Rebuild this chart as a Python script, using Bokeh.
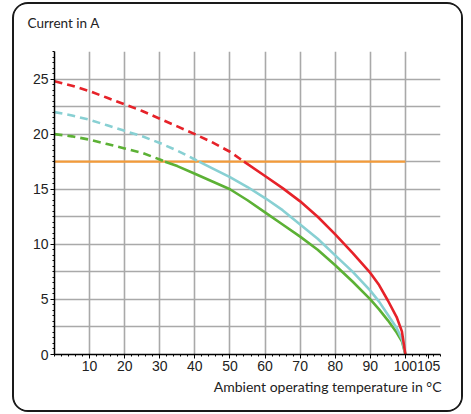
from bokeh.plotting import figure
from bokeh.models import Range1d, FixedTicker, Title
from bokeh.embed import file_html
from bokeh.resources import INLINE
import numpy as np

# ---- data ----
limit_current = 17.5
limit_temp_end = 100

red_t = [0, 5, 10, 15, 20, 25, 30, 35, 40, 45, 50, 54, 60, 65, 70, 75, 80, 85, 90, 92.5, 95, 97.5, 99, 100]
red_i = [24.8, 24.4, 23.9, 23.3, 22.7, 22.1, 21.4, 20.7, 20.0, 19.25, 18.4, 17.5, 16.2, 15.1, 13.9, 12.5, 10.9, 9.2, 7.4, 6.3, 4.9, 3.4, 2.1, 0]

cyan_t = [0, 5, 10, 15, 20, 25, 30, 35, 40, 41.2, 45, 50, 55, 60, 65, 70, 75, 80, 85, 90, 92.5, 95, 97.5, 99, 100]
cyan_i = [22.0, 21.7, 21.3, 20.8, 20.3, 19.8, 19.2, 18.5, 17.7, 17.5, 16.9, 16.1, 15.2, 14.2, 13.1, 11.8, 10.5, 9.0, 7.5, 5.8, 4.8, 3.6, 2.4, 1.4, 0]

green_t = [0, 5, 10, 15, 20, 25, 30, 31.5, 35, 40, 45, 50, 55, 60, 65, 70, 75, 80, 85, 90, 92.5, 95, 97.5, 99, 100]
green_i = [20.0, 19.8, 19.5, 19.1, 18.7, 18.3, 17.7, 17.5, 17.1, 16.4, 15.7, 15.0, 14.0, 12.9, 11.8, 10.7, 9.5, 8.1, 6.6, 5.0, 4.1, 3.1, 2.0, 1.2, 0]

x_grid = [10, 20, 30, 40, 50, 60, 70, 80, 90, 100, 110]
x_ticks = [10, 20, 30, 40, 50, 60, 70, 80, 90, 100, 106.6]
x_tick_labels = ["10", "20", "30", "40", "50", "60", "70", "80", "90", "100", "105"]
y_ticks = [0, 5, 10, 15, 20, 25]
y_grid = [2.5, 5, 7.5, 10, 12.5, 15, 17.5, 20, 22.5, 25, 27.5]

y_caption = "Current in A"
x_caption = "Ambient operating temperature in °C"

RED = "#e62229"
CYAN = "#88d0d3"
GREEN = "#5cb135"
ORANGE = "#f39b3a"
GRID = "#a9a9a9"
TXT = "#222222"

# ---- layout ----
BORDER = 2
W, H = 447, 406                 # inner size of the rounded box
FL, FR, FT, FB = 40, 422, 47, 346   # plot frame edges inside the box
XMAX, YMAX = 110, 27.5

p = figure(width=W, height=H, output_backend="svg", toolbar_location=None,
           x_range=Range1d(0, XMAX), y_range=Range1d(0, YMAX),
           min_border_left=FL, min_border_right=W - FR, min_border_top=FT,
           min_border_bottom=H - FB)
p.margin = (2, 0, 0, 12)
p.styles = {"border": f"{BORDER}px solid #1a1a1a", "border-radius": "16px",
            "box-sizing": "content-box", "overflow": "hidden", "background": "white"}
p.outline_line_color = None
p.background_fill_color = "white"
p.border_fill_color = "white"

# spacer between the caption and the plot frame
p.add_layout(Title(text=" ", text_font_size="1px", standoff=18), "above")

# caption above (y quantity)
p.title.text = y_caption
p.title.align = "left"
p.title.offset = -27
p.title.standoff = 0
p.title.text_font = "Lato"
p.title.text_font_size = "13.5px"
p.title.text_font_style = "normal"
p.title.text_color = TXT

# caption below (x quantity)
p.add_layout(Title(text=x_caption, align="right", offset=-1, standoff=8,
                   vertical_align="top", text_font="Lato", text_font_size="14px",
                   text_font_style="normal", text_color=TXT), "below")

# grid
p.xgrid.ticker = FixedTicker(ticks=x_grid)
p.ygrid.ticker = FixedTicker(ticks=y_grid)
for g in (p.xgrid, p.ygrid):
    g.grid_line_color = GRID
    g.grid_line_width = 1.6

# axes
p.xaxis.ticker = FixedTicker(ticks=x_ticks, minor_ticks=list(np.arange(0, 110.1, 2)))
p.xaxis.major_label_overrides = {t: l for t, l in zip(x_ticks, x_tick_labels)}
p.yaxis.ticker = FixedTicker(ticks=y_ticks, minor_ticks=list(np.arange(0, 27.6, 0.5)))
for ax in (p.xaxis, p.yaxis):
    ax.axis_line_color = "black"
    ax.axis_line_width = 1.5
    ax.major_tick_line_color = "black"
    ax.minor_tick_line_color = "black"
    ax.major_tick_out = 4
    ax.major_tick_in = 0
    ax.minor_tick_out = 2
    ax.minor_tick_in = 0
    ax.major_label_text_font = "Liberation Sans"
    ax.major_label_text_font_size = "14px"
    ax.major_label_text_color = TXT
p.xaxis.major_label_standoff = 2
p.yaxis.major_label_standoff = 2

# limit line
p.line([0, limit_temp_end], [limit_current, limit_current], line_color=ORANGE, line_width=2.2)

# curves: dashed above the limit current, solid below
for t, i, c in ((green_t, green_i, GREEN), (cyan_t, cyan_i, CYAN), (red_t, red_i, RED)):
    k = i.index(limit_current)
    p.line(t[:k + 1], i[:k + 1], line_color=c, line_width=2.6, line_dash="8 5")
    p.line(t[k:], i[k:], line_color=c, line_width=2.6)

open("out.html", "w").write(file_html(p, INLINE))
